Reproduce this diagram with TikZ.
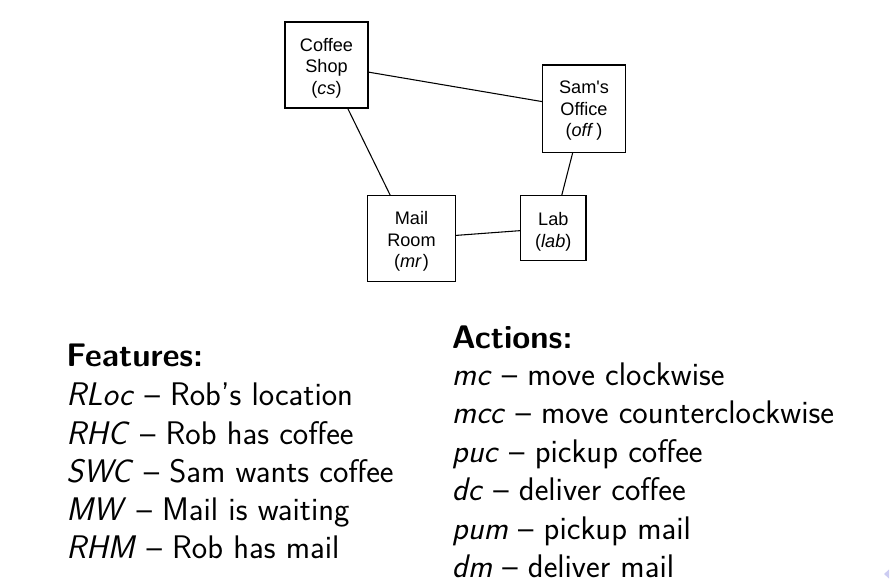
\documentclass[tikz,border=0pt]{standalone}
\usepackage{fontspec}
\newfontfamily\helv{Liberation Sans}
\begin{document}
\begin{tikzpicture}[x=0.75pt,y=-0.75pt]
\tikzset{
  room/.style={draw, line width=0.9pt, inner sep=0pt},
  roomtext/.style={inner sep=0pt, align=center,
    font=\helv\fontsize{13.6}{16.2}\selectfont},
  link/.style={line width=0.8pt},
  txt/.style={anchor=base west, inner sep=0pt, font=\sffamily\fontsize{24.5}{28.8}\selectfont}
}
\useasboundingbox (0,0) rectangle (892,584);
% graph
\node[room, minimum width=62.25pt, minimum height=64.5pt] (cs) at (326.5,65) {};
\node[room, minimum width=62pt, minimum height=65.5pt] (off) at (584,108.7) {};
\node[room, minimum width=65.7pt, minimum height=64.5pt] (mr) at (411.5,238.7) {};
\node[room, minimum width=49pt, minimum height=48.75pt] (lab) at (553.3,228.2) {};
\node[roomtext] (cst) at ([yshift=-2.2pt]cs.center) {Coffee\\Shop\\(\textit{cs})};
\node[roomtext] (offt) at ([yshift=-1.5pt]off.center) {Sam\textquotesingle s\\Office\\(\textit{off}\,)};
\node[roomtext] (mrt) at ([yshift=-2pt]mr.center) {Mail\\Room\\(\textit{mr}\kern0.8pt)};
\node[roomtext] (labt) at ([yshift=-2.5pt]lab.center) {Lab\\(\textit{lab})};
\draw[link] (cs) -- (off);
\draw[link] (cs) -- (mr);
\draw[link] (off) -- (lab);
\draw[link] (mr) -- (lab);
% features
\node[txt] (f0) at (66,366.7) {\bfseries Features:};
\node[txt] (f1) at (66,406) {\textit{RLoc} -- Rob's location};
\node[txt] (f2) at (66,444) {\textit{RHC} -- Rob has coffee};
\node[txt] (f3) at (66,482) {\textit{SWC} -- Sam wants coffee};
\node[txt] (f4) at (66,520) {\textit{MW} -- Mail is waiting};
\node[txt] (f5) at (66,558) {\textit{RHM} -- Rob has mail};
% actions
\node[txt] (a0) at (451.7,348.3) {\bfseries Actions:};
\node[txt] (a1) at (451.7,385.5) {\textit{mc} -- move clockwise};
\node[txt] (a2) at (451.7,423.5) {\textit{mcc} -- move counterclockwise};
\node[txt] (a3) at (451.7,462) {\textit{puc} -- pickup coffee};
\node[txt] (a4) at (451.7,500.5) {\textit{dc} -- deliver coffee};
\node[txt] (a5) at (451.7,539) {\textit{pum} -- pickup mail};
\node[txt] (a6) at (451.7,577) {\textit{dm} -- deliver mail};
% navigation mark
\fill[blue!60!gray!25] (884,574) -- (889,569.5) -- (889,578.5) -- cycle;
\end{tikzpicture}
\end{document}
